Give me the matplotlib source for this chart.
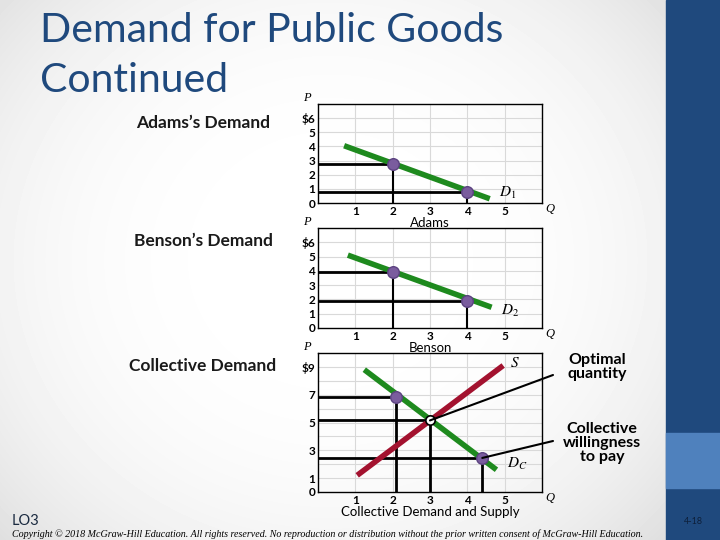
import numpy as np
import matplotlib.pyplot as plt
from matplotlib.patches import Rectangle, ConnectionPatch

plt.rcParams['mathtext.fontset'] = 'stix'
plt.rcParams['font.family'] = ['Lato', 'DejaVu Sans']

# tick values and labels
q_ticks = [1, 2, 3, 4, 5]
p_ticks_ind = [0, 1, 2, 3, 4, 5, 6]
p_labels_ind = ['0', '1', '2', '3', '4', '5', '$6']
p_ticks_col = [0, 1, 3, 5, 7, 9]
p_labels_col = ['0', '1', '3', '5', '7', '$9']

# Adams's demand
adams_line_q = [0.7, 4.6]
adams_line_p = [4.05, 0.3]
adams_q = [2, 4]
adams_p = [2.78, 0.78]

# Benson's demand
benson_line_q = [0.8, 4.65]
benson_line_p = [5.1, 1.45]
benson_q = [2, 4]
benson_p = [3.95, 1.9]

# collective demand and supply
demand_q = [1.24, 4.78]
demand_p = [8.8, 1.6]
supply_q = [1.05, 4.96]
supply_p = [1.2, 9.1]
coll_q = [2.1, 4.4]
coll_p = [6.85, 2.45]
eq_q, eq_p = 3.0, 5.15

GREEN = '#1e8a1e'
PURPLE = '#7a5c9e'
RED = '#a3122f'
NAVY = '#1f497d'

fig = plt.figure(figsize=(7.2, 5.4), dpi=100)

# slide background
bg = fig.add_axes([0, 0, 1, 1])
bg.set_xlim(0, 720)
bg.set_ylim(540, 0)
bg.axis('off')
yy, xx = np.mgrid[0:540, 0:666]
r = np.hypot((xx - 330) / 420, (yy - 260) / 380)
shade = 1 - 0.1 * np.clip(r, 0, 1.3) ** 3
bg.imshow(shade, cmap='gray', vmin=0, vmax=1, extent=(0, 666, 540, 0), aspect='auto', zorder=0)
bg.add_patch(Rectangle((666, 0), 54, 540, color=NAVY, zorder=1))
bg.add_patch(Rectangle((666, 433), 54, 55, color='#4f81bd', zorder=2))

bg.text(40, 30, 'Demand for Public Goods', fontsize=29.5, color=NAVY, va='center')
bg.text(40, 80, 'Continued', fontsize=29.5, color=NAVY, va='center')
for y, label in [(123, 'Adams\u2019s Demand'), (241, 'Benson\u2019s Demand'), (366, 'Collective Demand')]:
    bg.text(203, y, label, fontsize=12.5, fontweight='bold', ha='center', va='center', color='#1a1a1a')
bg.text(597, 367, 'Optimal\nquantity', fontsize=11.5, fontweight='bold', ha='center', va='center', linespacing=1.0)
bg.text(602, 443, 'Collective\nwillingness\nto pay', fontsize=11.5, fontweight='bold', ha='center', va='center',
        linespacing=1.0)
bg.text(12, 521, 'LO3', fontsize=10.5, color='#1a2a40', va='center')
bg.text(12, 534, 'Copyright \u00a9 2018 McGraw-Hill Education. All rights reserved. No reproduction or distribution '
        'without the prior written consent of McGraw-Hill Education.',
        fontsize=7.2, family='Liberation Serif', style='italic', va='center')
bg.text(693, 522, '4-18', fontsize=6.5, color='#0d1f3a', ha='center', va='center')


def panel(top, bottom, ymax, yticks, ylabels, name):
    ax = fig.add_axes([318 / 720, 1 - bottom / 540, 224 / 720, (bottom - top) / 540])
    ax.set_xlim(0, 6)
    ax.set_ylim(0, ymax)
    ax.patch.set_alpha(0)
    for v in range(1, 6):
        ax.axvline(v, color='#d9d9d9', lw=0.8, zorder=1)
    for v in range(1, ymax):
        ax.axhline(v, color='#d9d9d9', lw=0.8, zorder=1)
    ax.set_xticks(q_ticks)
    ax.set_xticklabels([str(q) for q in q_ticks])
    ax.set_yticks(yticks)
    ax.set_yticklabels(ylabels)
    ax.tick_params(length=0, labelsize=8.5, pad=2)
    for lab in ax.get_xticklabels() + ax.get_yticklabels():
        lab.set_fontweight('bold')
    for s in ax.spines.values():
        s.set_linewidth(1)
    ax.text(-0.3, ymax, 'P', fontsize=9, family='Liberation Serif', style='italic', ha='center', va='bottom')
    ax.text(6.2, 0, 'Q', fontsize=9, family='Liberation Serif', style='italic', ha='center', va='top')
    ax.annotate(name, xy=(3, 0), xytext=(0, -10), textcoords='offset points',
                fontsize=9.5, ha='center', va='top')
    return ax


ax1 = panel(104, 203, 7, p_ticks_ind, p_labels_ind, 'Adams')
ax1.plot(adams_line_q, adams_line_p, color=GREEN, lw=4, solid_capstyle='butt', zorder=3)
for q, p in zip(adams_q, adams_p):
    ax1.plot([0, q], [p, p], color='black', lw=2, zorder=2)
    ax1.plot([q, q], [0, p], color='black', lw=1.5, zorder=2)
ax1.scatter(adams_q, adams_p, s=70, color=PURPLE, edgecolor='#5b4280', zorder=4)
ax1.text(4.85, 0.45, '$D_1$', fontsize=11)

ax2 = panel(228, 328, 7, p_ticks_ind, p_labels_ind, 'Benson')
ax2.plot(benson_line_q, benson_line_p, color=GREEN, lw=4, solid_capstyle='butt', zorder=3)
for q, p in zip(benson_q, benson_p):
    ax2.plot([0, q], [p, p], color='black', lw=2, zorder=2)
    ax2.plot([q, q], [0, p], color='black', lw=1.5, zorder=2)
ax2.scatter(benson_q, benson_p, s=70, color=PURPLE, edgecolor='#5b4280', zorder=4)
ax2.text(4.9, 0.9, '$D_2$', fontsize=11)

ax3 = panel(353, 492, 10, p_ticks_col, p_labels_col, 'Collective Demand and Supply')
ax3.plot(demand_q, demand_p, color=GREEN, lw=4, solid_capstyle='butt', zorder=3)
ax3.plot(supply_q, supply_p, color=RED, lw=4, solid_capstyle='butt', zorder=3)
for q, p in zip(coll_q + [eq_q], coll_p + [eq_p]):
    ax3.plot([0, q], [p, p], color='black', lw=2, zorder=2)
    ax3.plot([q, q], [0, p], color='black', lw=2, zorder=2)
ax3.scatter(coll_q, coll_p, s=70, color=PURPLE, edgecolor='#5b4280', zorder=4)
ax3.scatter([eq_q], [eq_p], s=45, color='white', edgecolor='black', linewidth=1.2, zorder=5)
ax3.text(5.15, 9.0, '$S$', fontsize=11)
ax3.text(5.05, 1.7, '$D_C$', fontsize=11)

for (q, p), y in [((eq_q, eq_p), 375), ((coll_q[1], coll_p[1]), 441)]:
    con = ConnectionPatch(xyA=(q, p), coordsA=ax3.transData, xyB=(553, y), coordsB=bg.transData,
                          color='black', lw=1.5, zorder=6)
    fig.add_artist(con)

fig.savefig('out.png', dpi=100)
